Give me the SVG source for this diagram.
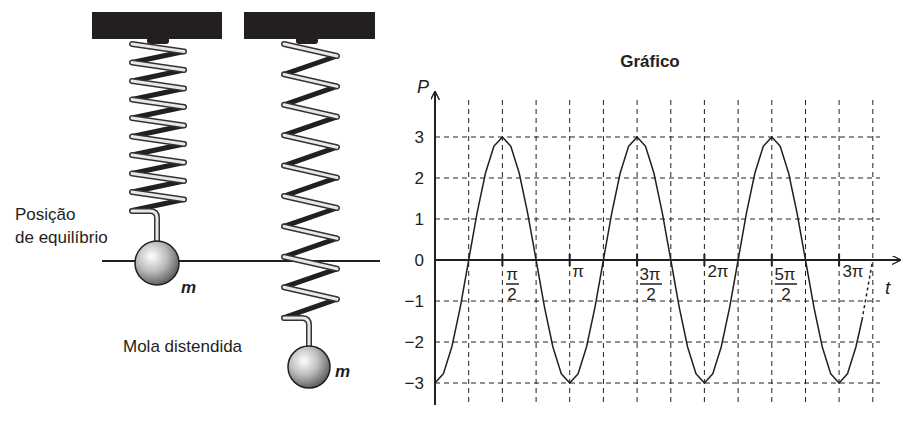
<svg xmlns="http://www.w3.org/2000/svg" width="907" height="432" viewBox="0 0 907 432">
<defs>
<radialGradient id="ball" cx="0.38" cy="0.35" r="0.7"><stop offset="0" stop-color="#fff"/><stop offset="0.5" stop-color="#bbb"/><stop offset="1" stop-color="#555"/></radialGradient>
<marker id="ar" viewBox="0 0 10 10" refX="9" refY="5" markerWidth="9" markerHeight="9" markerUnits="userSpaceOnUse" orient="auto"><path d="M0,0 L10,5 L0,10" fill="none" stroke="#231f20" stroke-width="1.5"/></marker>
</defs>
<style>
text{font-family:"Liberation Sans",Arial,sans-serif;fill:#231f20}
.lbl{font-size:17px}
.num{font-size:17px;text-anchor:end}
.tk{font-size:17px;text-anchor:middle}
.grid{stroke:#231f20;stroke-width:1;stroke-dasharray:5,4;fill:none}
.back{stroke:#231f20;stroke-width:5;stroke-linecap:round;fill:none}
.fo{stroke:#333;stroke-width:6;stroke-linecap:round;fill:none}
.fi{stroke:#e8e8e8;stroke-width:3;stroke-linecap:round;fill:none}
</style>
<rect width="907" height="432" fill="#fff"/>
<g id="left-support"><rect x="92" y="12" width="130" height="27" fill="#231f20"/><rect x="147" y="37" width="22" height="7" rx="3" fill="#231f20"/></g>
<g id="right-support"><rect x="244" y="12" width="131" height="27" fill="#231f20"/><rect x="296" y="37" width="22" height="7" rx="3" fill="#231f20"/></g>
<line id="equilibrium-line" x1="102" y1="261" x2="380" y2="261" stroke="#231f20" stroke-width="2"/>
<g id="left-spring">
<path class="back" d="M184,51.5L132,62.5M184,70L132,81M184,88.5L132,99.5M184,107L132,118M184,125.5L132,136.5M184,144L132,155M184,162.5L132,173.5M184,181L132,192M184,199.5L132,210.5"/>
<path class="fo" d="M132,44L184,51.5M132,62.5L184,70M132,81L184,88.5M132,99.5L184,107M132,118L184,125.5M132,136.5L184,144M132,155L184,162.5M132,173.5L184,181M132,192L184,199.5M132,211H150Q157,211 157,218V242"/>
<path class="fi" d="M132,44L184,51.5M132,62.5L184,70M132,81L184,88.5M132,99.5L184,107M132,118L184,125.5M132,136.5L184,144M132,155L184,162.5M132,173.5L184,181M132,192L184,199.5M132,211H150Q157,211 157,218V242"/>
</g>
<g id="left-mass"><circle cx="157" cy="263" r="22" fill="url(#ball)" stroke="#231f20" stroke-width="1.5"/><text x="181" y="293" style="font-size:17px;font-weight:bold;font-style:italic">m</text></g>
<g id="right-spring">
<path class="back" d="M337,56L284,74.4M337,86.4L284,104.8M337,116.8L284,135.2M337,147.2L284,165.6M337,177.6L284,196M337,208L284,226.4M337,238.4L284,256.8M337,268.8L284,287.2M337,299.2L284,317.6"/>
<path class="fo" d="M284,44L337,56M284,74.4L337,86.4M284,104.8L337,116.8M284,135.2L337,147.2M284,165.6L337,177.6M284,196L337,208M284,226.4L337,238.4M284,256.8L337,268.8M284,287.2L337,299.2M284,318H302Q309,318 309,325V347"/>
<path class="fi" d="M284,44L337,56M284,74.4L337,86.4M284,104.8L337,116.8M284,135.2L337,147.2M284,165.6L337,177.6M284,196L337,208M284,226.4L337,238.4M284,256.8L337,268.8M284,287.2L337,299.2M284,318H302Q309,318 309,325V347"/>
</g>
<g id="right-mass"><circle cx="309" cy="367" r="21" fill="url(#ball)" stroke="#231f20" stroke-width="1.5"/><text x="335" y="377" style="font-size:17px;font-weight:bold;font-style:italic">m</text></g>
<g id="labels-left">
<text class="lbl" x="15" y="220">Posição</text>
<text class="lbl" x="15" y="243">de equilíbrio</text>
<text class="lbl" x="123" y="352">Mola distendida</text>
</g>
<g id="graph">
<text x="650" y="67" style="font-size:17px;font-weight:bold;text-anchor:middle">Gráfico</text>
<path class="grid" d="M435,137H880M435,178H880M435,219H880M435,301H880M435,342H880M435,383H880"/>
<path class="grid" d="M468.7,100V405M502.4,100V405M536.1,100V405M569.7,100V405M603.4,100V405M637.1,100V405M670.8,100V405M704.4,100V405M738.1,100V405M771.8,100V405M805.5,100V405M839.1,100V405M872.8,100V405"/>
<g id="connectors">
<line x1="435" y1="405" x2="435" y2="92" stroke="#231f20" stroke-width="2" marker-end="url(#ar)"/>
<line x1="435" y1="260" x2="900" y2="260" stroke="#231f20" stroke-width="2" marker-end="url(#ar)"/>
</g>
<path d="M502.4,254V266M569.7,254V266M637.1,254V266M704.4,254V266M771.8,254V266M839.1,254V266" stroke="#231f20" stroke-width="2"/>
<path d="M435,383L443.4,373.7L451.8,347L460.3,307.1L468.7,260L477.1,212.9L485.5,173L493.9,146.3L502.4,137L510.8,146.3L519.2,173L527.6,212.9L536.1,260L544.5,307.1L552.9,347L561.3,373.7L569.7,383L578.1,373.7L586.5,347L595,307.1L603.4,260L611.8,212.9L620.2,173L628.6,146.3L637.1,137L645.5,146.3L653.9,173L662.3,212.9L670.8,260L679.2,307.1L687.6,347L696,373.7L704.4,383L712.8,373.7L721.2,347L729.7,307.1L738.1,260L746.5,212.9L754.9,173L763.3,146.3L771.8,137L780.2,146.3L788.6,173L797,212.9L805.5,260L813.9,307.1L822.3,347L830.7,373.7L839.1,383L847.5,373.7L855.9,347L862,320" fill="none" stroke="#231f20" stroke-width="1.5" stroke-linejoin="round"/>
<path d="M862,320L864.3,307.1L872.7,260" fill="none" stroke="#231f20" stroke-width="1.5" stroke-dasharray="3,3"/>
<text x="417" y="93" style="font-size:18px;font-style:italic">P</text>
<text x="885" y="294" style="font-size:19px;font-style:italic">t</text>
<text class="num" x="424" y="143">3</text>
<text class="num" x="424" y="184">2</text>
<text class="num" x="424" y="225">1</text>
<text class="num" x="424" y="266">0</text>
<text class="num" x="424" y="307">−1</text>
<text class="num" x="424" y="348">−2</text>
<text class="num" x="424" y="389">−3</text>
<text class="tk" x="512" y="280">π</text><line x1="506" y1="284" x2="519" y2="284" stroke="#231f20" stroke-width="1.5"/><text class="tk" x="512" y="300">2</text>
<text class="tk" x="578" y="277">π</text>
<text class="tk" x="650" y="280">3π</text><line x1="640" y1="284" x2="662" y2="284" stroke="#231f20" stroke-width="1.5"/><text class="tk" x="651" y="300">2</text>
<text class="tk" x="718" y="277">2π</text>
<text class="tk" x="785" y="280">5π</text><line x1="775" y1="284" x2="797" y2="284" stroke="#231f20" stroke-width="1.5"/><text class="tk" x="786" y="300">2</text>
<text class="tk" x="853" y="277">3π</text>
</g>
</svg>
